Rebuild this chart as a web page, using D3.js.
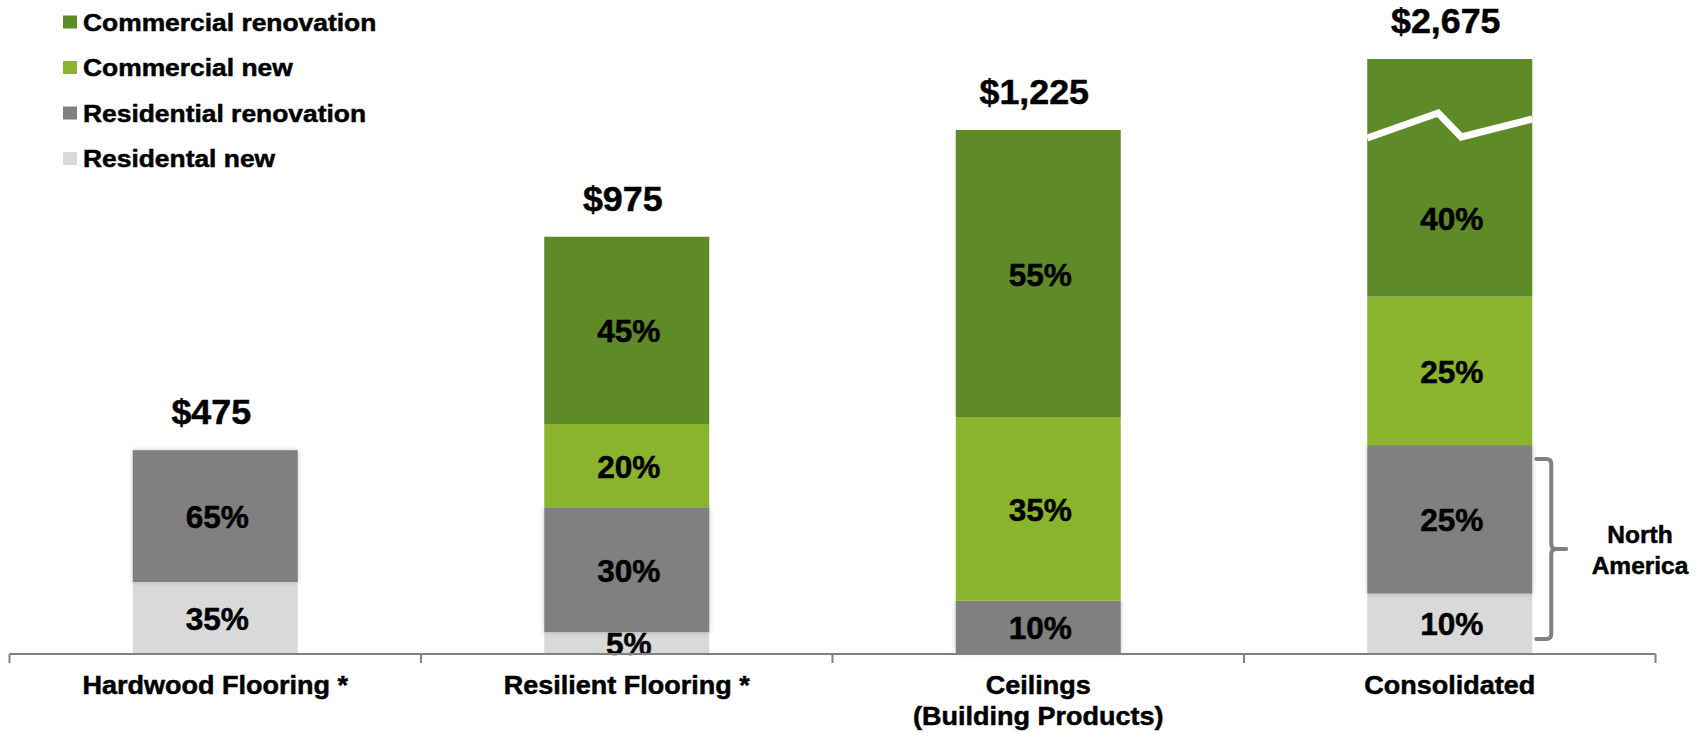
<!DOCTYPE html>
<html>
<head>
<meta charset="utf-8">
<script src="https://cdn.jsdelivr.net/npm/d3@7"></script>
<style>
  html, body { margin: 0; padding: 0; background: #fff; }
  svg { display: block; }
  text { font-family: "Liberation Sans", Arial, Helvetica, sans-serif; font-weight: bold; fill: #000; stroke: #000; stroke-width: 0.5px; }
</style>
</head>
<body>
<svg id="chart" width="1702" height="733"></svg>
<script>
// ---- data ----
const categories = ["Hardwood Flooring *", "Resilient Flooring *", "Ceilings\n(Building Products)", "Consolidated"];
const totals = [475, 975, 1225, 2675];
const totalLabels = ["$475", "$975", "$1,225", "$2,675"];
const seriesNames = ["Residental new", "Residential renovation", "Commercial new", "Commercial renovation"];
// shares (%) per category, bottom to top
const residentialNew        = [35, 5, 0, 10];
const residentialRenovation = [65, 30, 10, 25];
const commercialNew         = [0, 20, 35, 25];
const commercialRenovation  = [0, 45, 55, 40];
const legendOrder = ["Commercial renovation", "Commercial new", "Residential renovation", "Residental new"];
const brokenCategory = "Consolidated";
const bracketLabel = ["North", "America"];

// ---- styling ----
const colors = {
  "Commercial renovation": "#5E8A27",
  "Commercial new": "#8BB42D",
  "Residential renovation": "#808080",
  "Residental new": "#D9D9D9"
};

const svg = d3.select("#chart");
const baseY = 653;

const x = d3.scaleBand().domain(categories).range([9.5, 1655.5]).padding(0);
const barW = 165;
const barX = c => x(c) + (x.bandwidth() - barW) / 2;

// regular bars share one value scale; the consolidated bar is drawn on a broken (compressed) scale
const y = d3.scaleLinear().domain([0, 1225]).range([baseY, 130]);
const yBroken = d3.scaleLinear().domain([0, 2675]).range([baseY, 59]);
const yFor = c => c === brokenCategory ? yBroken : y;

// stack shares into dollar amounts
const shareSeries = {
  "Residental new": residentialNew,
  "Residential renovation": residentialRenovation,
  "Commercial new": commercialNew,
  "Commercial renovation": commercialRenovation
};
const rows = categories.map((c, i) => {
  const r = { category: c, total: totals[i] };
  seriesNames.forEach(s => { r[s] = shareSeries[s][i] / 100 * totals[i]; });
  return r;
});
const stacked = d3.stack().keys(seriesNames)(rows);

// subtle shadow behind the grey blocks
const defs = svg.append("defs");
const f = defs.append("filter").attr("id", "soft").attr("x", "-10%").attr("y", "-10%").attr("width", "120%").attr("height", "120%");
f.append("feDropShadow").attr("dx", 0).attr("dy", 0).attr("stdDeviation", 2.5)
  .attr("flood-color", "#000").attr("flood-opacity", 0.22);

// helper: text with horizontal stretch
function stretchedText(g, str, tx, ty, size, sx, anchor) {
  return g.append("text")
    .attr("transform", `translate(${tx},${ty}) scale(${sx},1)`)
    .attr("text-anchor", anchor || "middle")
    .style("font-size", size + "px")
    .text(str);
}

// ---- bars ----
const barsG = svg.append("g");
stacked.forEach(layer => {
  const key = layer.key;
  layer.forEach((d, i) => {
    if (d[1] - d[0] <= 0) return;
    const c = categories[i];
    const ys = yFor(c);
    barsG.append("rect")
      .attr("x", barX(c))
      .attr("y", ys(d[1]))
      .attr("width", barW)
      .attr("height", ys(d[0]) - ys(d[1]))
      .attr("fill", colors[key])
      .attr("filter", key === "Residential renovation" ? "url(#soft)" : null);
  });
});

// break marker on the consolidated bar
const bx0 = barX(brokenCategory);
const bTop = yBroken(totals[categories.indexOf(brokenCategory)]);
const breakPts = [[0, 79], [0.43, 54], [0.57, 78], [1, 60]].map(p => [bx0 + p[0] * barW, bTop + p[1]]);
svg.append("path")
  .attr("d", d3.line()(breakPts))
  .attr("fill", "none")
  .attr("stroke", "#fff")
  .attr("stroke-width", 7)
  .attr("stroke-linejoin", "miter");

// ---- percentage labels ----
const pctSize = 31;
const pctG = svg.append("g");
stacked.forEach(layer => {
  const key = layer.key;
  layer.forEach((d, i) => {
    const share = shareSeries[key][i];
    if (!share) return;
    const c = categories[i];
    const ys = yFor(c);
    let top = ys(d[1]);
    const bottom = ys(d[0]);
    if (c === brokenCategory && key === "Commercial renovation") top = bTop + 80;
    const cy = (top + bottom) / 2;
    stretchedText(pctG, share + "%", x(c) + x.bandwidth() / 2 + 2, cy + 0.358 * pctSize + 1, pctSize, 1.02);
  });
});

// ---- total labels ----
const totG = svg.append("g");
categories.forEach((c, i) => {
  const top = yFor(c)(totals[i]);
  stretchedText(totG, totalLabels[i], x(c) + x.bandwidth() / 2 - 4, top - 26, 35.5, 1.01);
});

// ---- x axis ----
const axisG = svg.append("g").attr("stroke", "#808080").attr("stroke-width", 2);
axisG.append("line").attr("x1", x.range()[0]).attr("x2", x.range()[1]).attr("y1", baseY + 1).attr("y2", baseY + 1);
const tickXs = categories.map(c => x(c)).concat([x.range()[1]]);
axisG.selectAll("line.tick").data(tickXs).enter().append("line")
  .attr("class", "tick")
  .attr("x1", d => d).attr("x2", d => d)
  .attr("y1", baseY + 1).attr("y2", baseY + 10);

const catG = svg.append("g");
categories.forEach(c => {
  const lines = c.split("\n");
  lines.forEach((ln, k) => {
    stretchedText(catG, ln, x(c) + x.bandwidth() / 2, 694 + k * 31, 25, 1.08);
  });
});

// ---- North America bracket ----
const consIdx = categories.indexOf(brokenCategory);
const resTop = yBroken(stacked[1][consIdx][1]);
const bl = bx0 + barW + 4, br = bl + 15, bTopY = resTop + 14, bBotY = baseY - 14;
const midY = (bTopY + bBotY) / 2, r = 5;
svg.append("path")
  .attr("d", `M${bl},${bTopY} H${br - r} Q${br},${bTopY} ${br},${bTopY + r} V${midY - r} Q${br},${midY} ${br + r},${midY} H${br + 15} M${br + r},${midY} Q${br},${midY} ${br},${midY + r} V${bBotY - r} Q${br},${bBotY} ${br - r},${bBotY} H${bl}`)
  .attr("fill", "none")
  .attr("stroke", "#808080")
  .attr("stroke-width", 4)
  .attr("stroke-linecap", "round");
const naG = svg.append("g");
bracketLabel.forEach((t, k) => {
  stretchedText(naG, t, 1640, 543 + k * 31, 24.5, 1.0);
});

// ---- legend ----
const legG = svg.append("g");
legendOrder.forEach((s, k) => {
  const cy = 22 + k * 45.5;
  legG.append("rect").attr("x", 63).attr("y", cy - 6.5).attr("width", 14).attr("height", 13).attr("fill", colors[s]);
  stretchedText(legG, s, 83, cy + 8.5, 24, 1.1, "start");
});
</script>
</body>
</html>
